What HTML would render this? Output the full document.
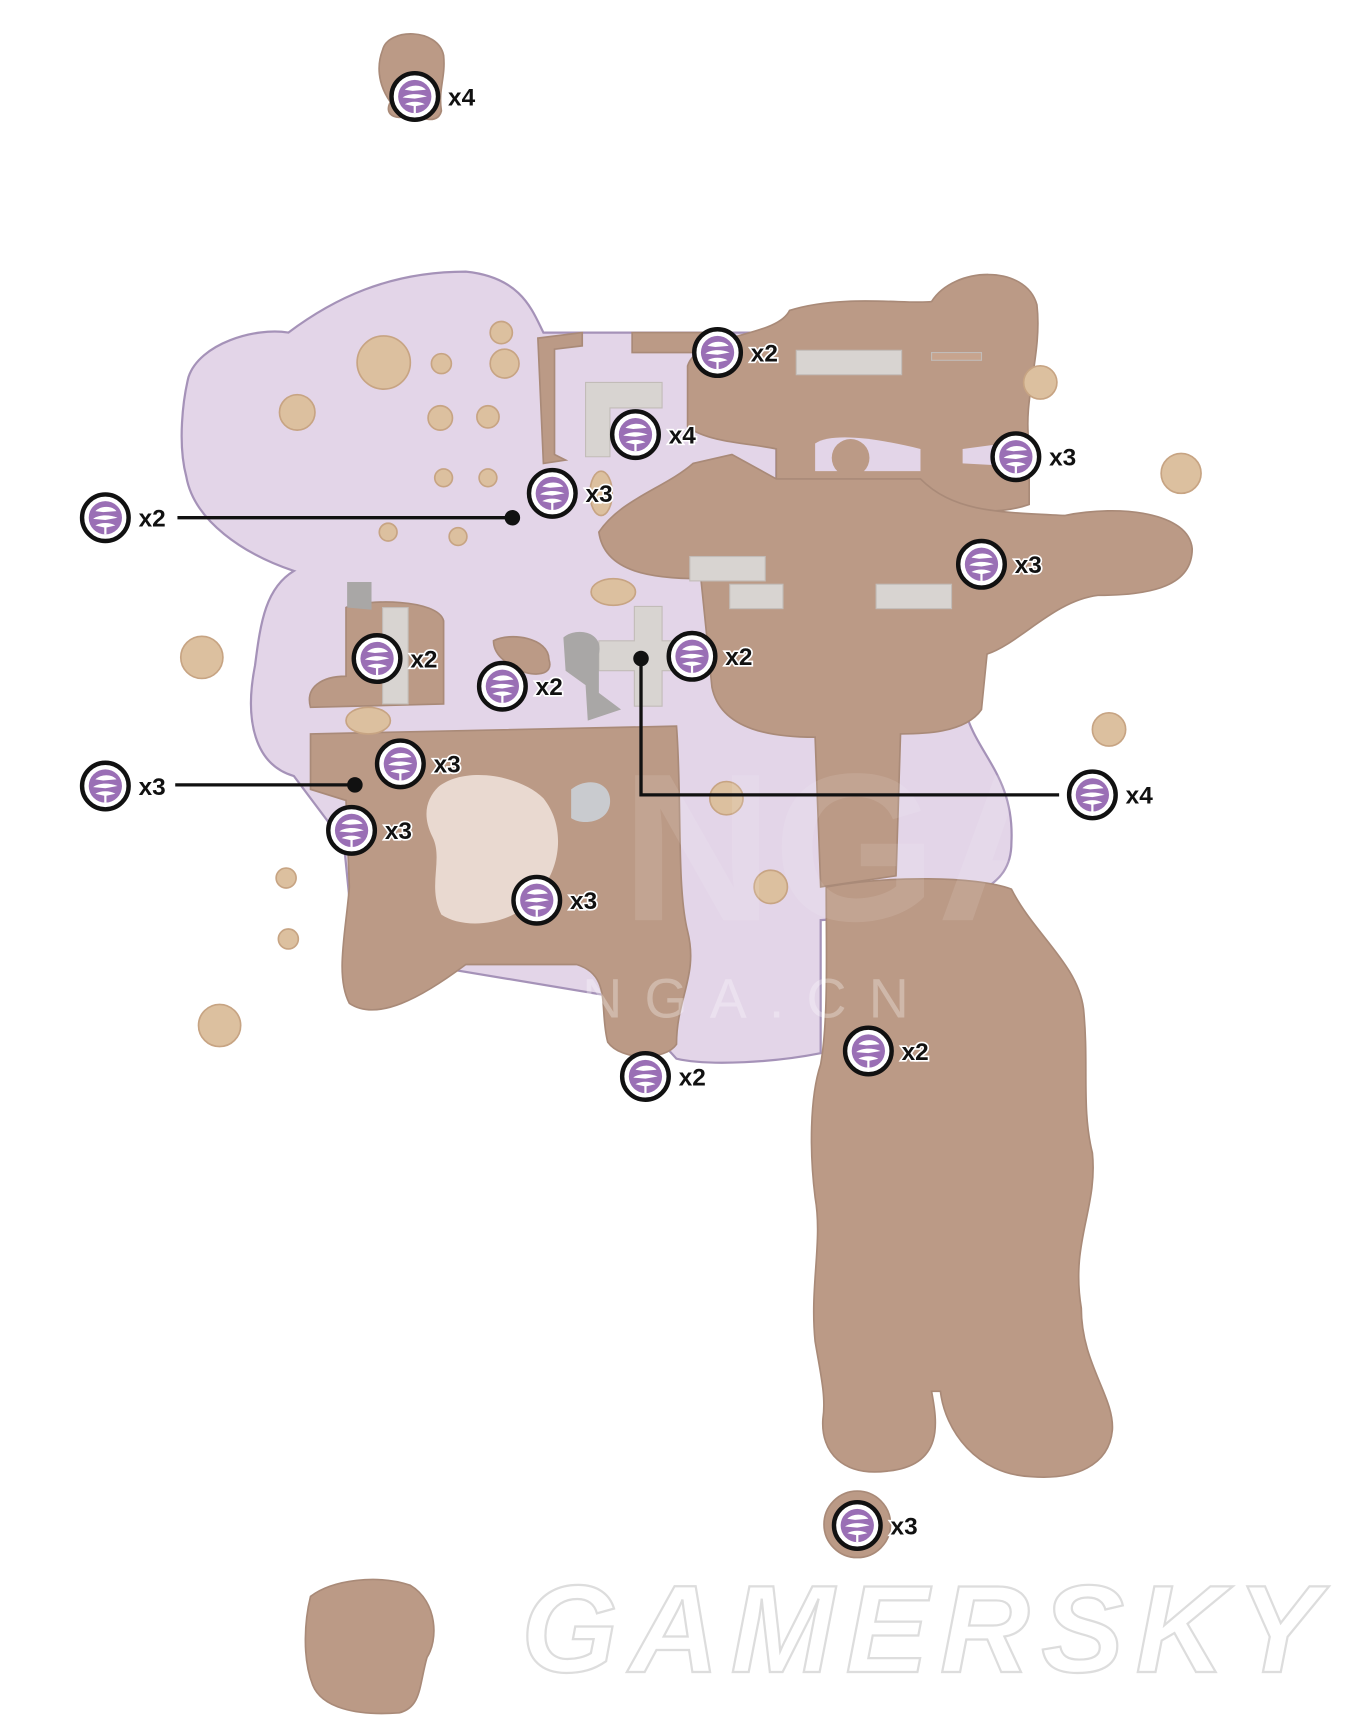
<!DOCTYPE html>
<html><head><meta charset="utf-8"><style>
html,body{margin:0;padding:0;background:#fff;}
svg{display:block;}
.l{font-family:"Liberation Sans",sans-serif;font-weight:bold;font-size:22px;fill:#111;stroke:#fff;stroke-width:3px;paint-order:stroke;}
</style></head><body>
<svg width="1353" height="1725" viewBox="0 0 1220 1556" preserveAspectRatio="none" xmlns="http://www.w3.org/2000/svg">
<defs>
<g id="m">
<circle r="21" fill="#fff" stroke="#111" stroke-width="4"/>
<circle r="15" fill="#9a6fb5"/>
<path d="M-9,-6 C-4,-11 6,-11 10,-6 L-2,-5 Z M-11,1 C-6,-3 4,-3 11,0 L0,2 Z M-9,7 C-4,4 4,4 9,7 L0,9Z" fill="#fff"/>
<rect x="-1" y="8" width="2" height="7" fill="#fff"/>
</g>
</defs>
<path d="M170,340 C180,310 230,295 260,300 C300,270 350,245 420,245 C470,250 480,280 490,300 L700,300 L700,640 L870,640 C880,680 915,700 912,760 C912,800 880,820 740,830 L740,950 C700,958 640,962 610,955 L560,900 L320,860 L310,760 L265,700 C230,690 220,650 230,600 C235,560 240,530 265,515 C220,500 175,470 168,430 C160,400 165,360 170,340 Z" fill="#e3d5e8" stroke="#a592b8" stroke-width="2"/>
<g fill="#bb9a86" stroke="#a98a78" stroke-width="1.5">
<path d="M345,45 C350,25 395,25 400,50 C402,70 395,80 398,100 C395,112 380,108 372,102 C360,110 345,105 352,92 C340,75 340,58 345,45Z"/>
<path d="M620,330 C630,300 700,305 712,280 C760,265 820,275 840,272 C860,240 925,238 935,275 C940,320 922,360 928,400 L928,455 C900,465 870,460 830,460 L830,436 L700,436 L700,405 C680,400 640,400 620,385 Z"/>
<path d="M540,480 C560,450 600,440 625,418 L660,410 L700,432 L830,432 C860,462 900,462 960,465 C1010,455 1072,462 1075,495 C1075,528 1040,537 990,537 C950,542 920,580 890,590 L885,640 C870,662 830,662 812,662 L808,790 L740,800 L735,665 C700,665 650,660 642,620 L632,522 C590,522 545,517 540,480 Z"/>
<path d="M745,800 C800,790 880,790 912,802 C932,842 972,870 977,910 C982,960 975,1000 985,1040 C990,1090 965,1120 975,1180 C975,1230 1005,1260 1003,1290 C1000,1322 970,1335 930,1332 C880,1330 852,1290 848,1255 L840,1255 C845,1282 852,1322 800,1327 C760,1332 740,1310 742,1280 C745,1260 740,1240 735,1210 C730,1160 742,1120 735,1080 C730,1040 730,990 740,960 C747,920 745,860 745,800 Z"/>
<path d="M280,662 L610,655 C615,720 610,800 620,840 C630,880 610,900 610,942 C600,957 560,957 548,940 C540,910 552,880 520,870 L420,870 C380,900 340,922 315,905 C302,880 312,840 315,800 L312,722 L280,712 Z"/>
<path d="M485,305 L525,300 L525,312 L500,315 L500,410 L510,415 L490,418 Z"/>
<path d="M570,300 L640,300 L640,318 L570,318 Z"/>
<path d="M312,548 C330,540 395,540 400,560 L400,635 L280,638 C275,620 290,610 312,610 Z"/>
<path d="M445,578 C460,570 495,575 495,595 C500,610 480,610 470,605 C455,598 445,590 445,578Z"/>
<circle cx="773" cy="1375" r="30"/>
<path d="M280,1440 C300,1425 340,1420 370,1430 C395,1445 395,1480 385,1495 C378,1520 380,1540 360,1545 C320,1548 290,1540 282,1520 C272,1495 275,1460 280,1440Z"/>
</g>
<path d="M395,710 C420,690 470,700 490,720 C510,745 505,780 490,800 C470,835 420,840 398,825 C385,800 400,775 390,755 C380,735 385,720 395,710Z" fill="#e9d9d0"/>
<path d="M515,712 C530,700 552,705 550,725 C548,742 525,745 515,738 Z" fill="#c9cbcf"/>
<path d="M735,400 C750,390 790,395 830,405 L830,425 L735,425 Z" fill="#e3d5e8"/>
<circle cx="767" cy="413" r="17" fill="#bb9a86"/>
<path d="M868,405 L905,400 L905,420 L868,418 Z" fill="#e3d5e8"/>
<g fill="#dcc09f" stroke="#c7a483" stroke-width="1.5">
<circle cx="346" cy="327" r="24"/><circle cx="182" cy="593" r="19"/><circle cx="198" cy="925" r="19"/>
<circle cx="258" cy="792" r="9"/><circle cx="260" cy="847" r="9"/><circle cx="1065" cy="427" r="18"/>
<circle cx="938" cy="345" r="15"/><circle cx="268" cy="372" r="16"/><circle cx="398" cy="328" r="9"/>
<circle cx="397" cy="377" r="11"/><circle cx="440" cy="376" r="10"/><circle cx="400" cy="431" r="8"/>
<circle cx="440" cy="431" r="8"/><circle cx="350" cy="480" r="8"/><circle cx="413" cy="484" r="8"/>
<circle cx="452" cy="300" r="10"/><circle cx="455" cy="328" r="13"/><circle cx="1000" cy="658" r="15"/>
<circle cx="695" cy="800" r="15"/><circle cx="655" cy="720" r="15"/><ellipse cx="553" cy="534" rx="20" ry="12"/>
<ellipse cx="332" cy="650" rx="20" ry="12"/><ellipse cx="542" cy="445" rx="10" ry="20"/>
</g>
<g fill="#d8d4d1" stroke="#c2bcb8">
<rect x="718" y="316" width="95" height="22"/><rect x="840" y="318" width="45" height="7" fill="#c7a48e"/>
<path d="M528,345 L597,345 L597,368 L550,368 L550,412 L528,412Z"/>
<rect x="622" y="502" width="68" height="22"/><rect x="658" y="527" width="48" height="22"/>
<rect x="790" y="527" width="68" height="22"/>
<path d="M572,547 L597,547 L597,578 L640,578 L640,605 L597,605 L597,637 L572,637 L572,605 L540,605 L540,578 L572,578Z"/>
<path d="M345,548 L368,548 L368,635 L345,635Z"/>
</g>
<path d="M508,575 C520,565 545,570 540,590 L540,625 L560,640 L530,650 L528,618 L510,605Z" fill="#a9a7a6"/>
<path d="M313,525 L335,525 L335,550 L313,548Z" fill="#a9a7a6"/>
<text x="560" y="830" font-family="Liberation Sans,sans-serif" font-weight="bold" font-size="190" fill="#fff" opacity="0.1">NGA</text>
<text x="525" y="918" font-family="Liberation Sans,sans-serif" font-size="50" letter-spacing="20" fill="#fff" opacity="0.3">NGA.CN</text>
<text x="470" y="1508" font-family="Liberation Sans,sans-serif" font-weight="bold" font-style="italic" font-size="112" fill="none" stroke="#ddd" stroke-width="2" textLength="720">GAMERSKY</text>
<g stroke="#111" stroke-width="3" fill="none">
<line x1="160" y1="467" x2="462" y2="467"/><line x1="158" y1="708" x2="320" y2="708"/>
<polyline points="578,594 578,717 955,717"/>
</g>
<g fill="#111"><circle cx="462" cy="467" r="7"/><circle cx="320" cy="708" r="7"/><circle cx="578" cy="594" r="7"/></g>
<use href="#m" x="374" y="87"/><text class="l" x="404" y="95">x4</text>
<use href="#m" x="647" y="318"/><text class="l" x="677" y="326">x2</text>
<use href="#m" x="573" y="392"/><text class="l" x="603" y="400">x4</text>
<use href="#m" x="498" y="445"/><text class="l" x="528" y="453">x3</text>
<use href="#m" x="95" y="467"/><text class="l" x="125" y="475">x2</text>
<use href="#m" x="916" y="412"/><text class="l" x="946" y="420">x3</text>
<use href="#m" x="885" y="509"/><text class="l" x="915" y="517">x3</text>
<use href="#m" x="340" y="594"/><text class="l" x="370" y="602">x2</text>
<use href="#m" x="453" y="619"/><text class="l" x="483" y="627">x2</text>
<use href="#m" x="624" y="592"/><text class="l" x="654" y="600">x2</text>
<use href="#m" x="361" y="689"/><text class="l" x="391" y="697">x3</text>
<use href="#m" x="95" y="709"/><text class="l" x="125" y="717">x3</text>
<use href="#m" x="317" y="749"/><text class="l" x="347" y="757">x3</text>
<use href="#m" x="985" y="717"/><text class="l" x="1015" y="725">x4</text>
<use href="#m" x="484" y="812"/><text class="l" x="514" y="820">x3</text>
<use href="#m" x="582" y="971"/><text class="l" x="612" y="979">x2</text>
<use href="#m" x="783" y="948"/><text class="l" x="813" y="956">x2</text>
<use href="#m" x="773" y="1376"/><text class="l" x="803" y="1384">x3</text>
</svg>
</body></html>
